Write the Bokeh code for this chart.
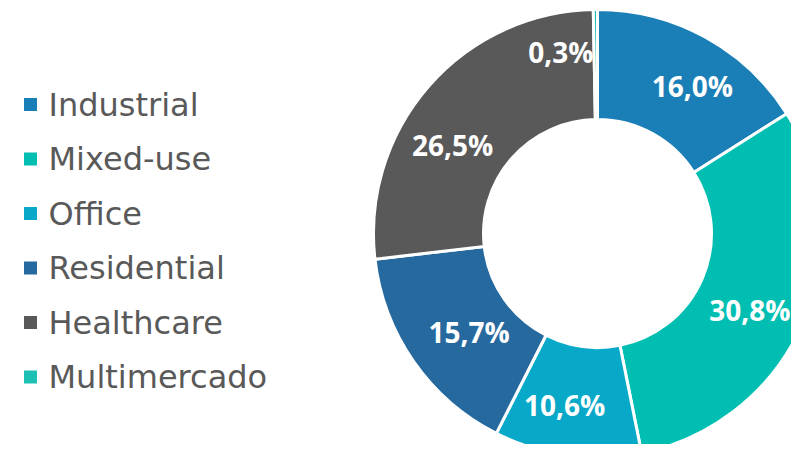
import math
from bokeh.plotting import figure
from bokeh.models import Range1d, ColumnDataSource
from bokeh.core.properties import value
from bokeh.embed import file_html
from bokeh.resources import INLINE

# ---- data ----
categories = ["Industrial", "Mixed-use", "Office", "Residential", "Healthcare", "Multimercado"]
shares = [16.0, 30.8, 10.6, 15.7, 26.5, 0.3]
labels = ["16,0%", "30,8%", "10,6%", "15,7%", "26,5%", "0,3%"]
colors = ["#1B7FB7", "#00BFB2", "#08A9C8", "#26699F", "#595959", "#1EC0B4"]

# ---- layout (picture pixels; data y = PAGE_H - picture_y) ----
W, H = 791, 444
PAGE_H = 452
CX, CY = 597, PAGE_H - 233
R_OUT, R_IN = 224, 114
R_LAB = 170
# small label nudges (px, dx right, dy down)
nudges = [(13, 1), (-4, 10), (-10, 3), (11, 1), (-17, 23), (-35, -12)]
LEG_X, LEG_Y0, LEG_DY = 30, 104, 54.5

p = figure(width=W, height=H, output_backend="svg", toolbar_location=None,
           x_range=Range1d(0, W), y_range=Range1d(PAGE_H - H, PAGE_H),
           min_border=0)
p.axis.visible = False
p.grid.visible = False
p.outline_line_color = None
p.background_fill_color = "white"
p.border_fill_color = "white"

total = sum(shares)
starts, ends, lx, ly = [], [], [], []
cum = 0.0
for s, (ndx, ndy) in zip(shares, nudges):
    a0 = math.pi / 2 - 2 * math.pi * cum / total
    cum += s
    a1 = math.pi / 2 - 2 * math.pi * cum / total
    starts.append(a0)
    ends.append(a1)
    mid = (a0 + a1) / 2
    lx.append(CX + R_LAB * math.cos(mid) + ndx)
    ly.append(CY + R_LAB * math.sin(mid) - ndy)

src = ColumnDataSource(dict(start=starts, end=ends, color=colors, cat=categories))
p.annular_wedge(x=CX, y=CY, inner_radius=R_IN, outer_radius=R_OUT,
                start_angle="start", end_angle="end", direction="clock",
                fill_color="color", line_color="white", line_width=3, source=src)

p.text(x=lx, y=ly, text=labels, text_color="white", text_font=value("Open Sans"),
       text_font_style="bold", text_font_size="28px",
       text_align="center", text_baseline="middle")

# legend
leg_y = [PAGE_H - (LEG_Y0 + i * LEG_DY) for i in range(len(categories))]
p.scatter(x=[LEG_X] * len(categories), y=leg_y, marker="square", size=13,
          fill_color=colors, line_color=None)
p.text(x=[LEG_X + 18] * len(categories), y=leg_y, text=categories,
       text_color="#595959", text_font=value("DejaVu Sans"), text_font_size="32px",
       text_align="left", text_baseline="middle")

open("out.html", "w").write(file_html(p, INLINE))
